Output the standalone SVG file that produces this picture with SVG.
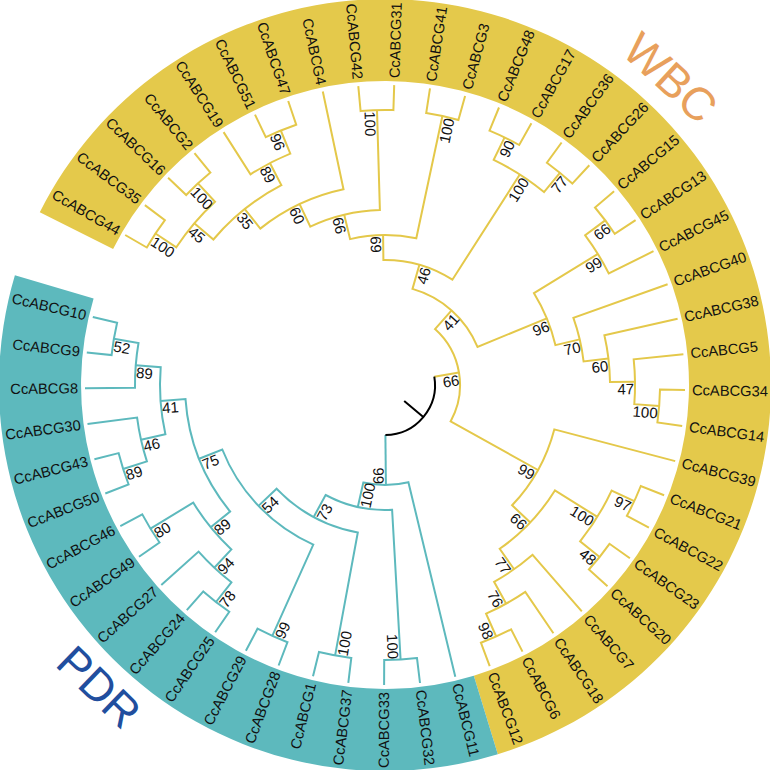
<svg xmlns="http://www.w3.org/2000/svg" width="770" height="770" viewBox="0 0 770 770">
<style>
.y{fill:none;stroke:#E4C84A;stroke-width:2}
.t{fill:none;stroke:#5DB9BD;stroke-width:2}
.k{fill:none;stroke:#000;stroke-width:2}
text{font-family:"Liberation Sans",Arial,sans-serif;fill:#111}
.lf{font-size:14.7px;dominant-baseline:central}
.R{text-anchor:start}
.L{text-anchor:end}
.b{font-size:15px}
.be{text-anchor:end}
.bs{text-anchor:start}
</style>
<rect width="770" height="770" fill="#fff"/>
<g id="bands">
<path d="M39.8,212.3 A386,386 0 1 1 497.8,754.2 L473.8,675.7 A304,304 0 1 0 113.1,249.0 Z" fill="#E4C94B"/>
<path d="M497.8,754.2 A386,386 0 0 1 14.9,275.2 L93.6,298.5 A304,304 0 0 0 473.8,675.7 Z" fill="#5DB9BD"/>
</g>
<g id="connectors">
<path class="y" d="M125.2,235.0 L146.8,247.5 A275,275 0 0 1 164.9,220.1 L144.9,205.1"/>
<path class="y" d="M168.1,177.7 L186.2,195.0 A275,275 0 0 1 210.4,172.6 L194.5,153.2"/>
<path class="y" d="M155.5,233.5 L176.3,247.3 A250,250 0 0 1 215.0,201.7 L198.0,183.4"/>
<path class="y" d="M255.0,114.6 L265.8,137.2 A275,275 0 0 1 296.2,124.7 L288.2,101.0"/>
<path class="y" d="M223.6,132.1 L250.5,174.3 A250,250 0 0 1 290.3,153.6 L280.8,130.5"/>
<path class="y" d="M194.3,223.3 L213.4,239.5 A225,225 0 0 1 281.4,185.2 L269.9,163.0"/>
<path class="y" d="M244.8,209.1 L260.3,228.6 A200,200 0 0 1 343.5,189.3 L322.8,91.5"/>
<path class="y" d="M358.3,86.2 L360.6,111.1 A275,275 0 0 1 393.4,110.1 L394.2,85.1"/>
<path class="y" d="M299.6,204.1 L310.3,226.7 A175,175 0 0 1 379.9,210.1 L377.0,110.1"/>
<path class="y" d="M430.0,88.4 L426.2,113.1 A275,275 0 0 1 458.4,120.0 L465.1,95.9"/>
<path class="y" d="M344.2,214.8 L350.1,239.1 A150,150 0 0 1 416.3,238.3 L442.4,116.0"/>
<path class="y" d="M499.0,107.5 L489.5,130.6 A275,275 0 0 1 519.2,145.0 L531.4,123.2"/>
<path class="y" d="M561.6,142.5 L546.9,162.7 A275,275 0 0 1 572.3,183.6 L589.3,165.3"/>
<path class="y" d="M504.6,137.4 L493.7,159.9 A250,250 0 0 1 544.0,192.1 L559.9,172.8"/>
<path class="y" d="M383.1,235.0 L383.4,260.0 A125,125 0 0 1 452.4,279.7 L519.8,174.5"/>
<path class="y" d="M614.1,191.3 L595.0,207.5 A275,275 0 0 1 614.7,233.8 L635.6,220.1"/>
<path class="y" d="M605.2,220.4 L585.2,235.3 A250,250 0 0 1 608.8,273.5 L653.5,251.2"/>
<path class="y" d="M685.0,390.0 L660.0,389.6 A275,275 0 0 1 657.4,422.5 L682.2,425.9"/>
<path class="y" d="M683.4,354.2 L633.7,359.3 A250,250 0 0 1 634.3,404.2 L659.2,406.1"/>
<path class="y" d="M677.6,318.7 L604.4,335.3 A225,225 0 0 1 610.0,382.1 L635.0,381.7"/>
<path class="y" d="M667.6,284.3 L573.4,317.8 A200,200 0 0 1 583.6,361.5 L608.4,358.5"/>
<path class="y" d="M597.9,253.9 L534.0,293.2 A175,175 0 0 1 555.4,345.1 L579.7,339.4"/>
<path class="y" d="M419.4,264.8 L412.5,288.9 A100,100 0 0 1 477.5,346.9 L546.8,318.3"/>
<path class="y" d="M664.1,495.2 L640.8,486.0 A275,275 0 0 1 626.9,515.8 L648.9,527.7"/>
<path class="y" d="M629.9,558.3 L609.5,543.8 A275,275 0 0 1 588.9,569.5 L607.5,586.3"/>
<path class="y" d="M634.3,501.1 L611.6,490.6 A250,250 0 0 1 580.1,541.3 L599.6,557.0"/>
<path class="y" d="M522.5,651.6 L511.1,629.4 A275,275 0 0 1 480.9,642.7 L489.7,666.2"/>
<path class="y" d="M553.4,633.3 L525.3,591.9 A250,250 0 0 1 486.1,613.7 L496.2,636.5"/>
<path class="y" d="M581.8,611.4 L532.6,554.8 A225,225 0 0 1 494.1,581.8 L506.2,603.7"/>
<path class="y" d="M597.4,516.9 L554.9,490.5 A200,200 0 0 1 499.7,548.8 L514.1,569.3"/>
<path class="y" d="M675.2,461.1 L554.3,429.4 A175,175 0 0 1 512.1,505.3 L530.3,522.5"/>
<path class="y" d="M451.6,310.4 L435.0,329.1 A75,75 0 0 1 450.6,421.4 L538.0,470.0"/>
<path class="y" d="M434.3,376.7 L459.0,372.5"/>
<path class="t" d="M86.8,352.4 L111.6,355.1 A275,275 0 0 1 117.1,322.7 L92.8,317.0"/>
<path class="t" d="M85.0,388.2 L135.0,387.7 A250,250 0 0 1 138.5,343.0 L113.9,338.8"/>
<path class="t" d="M105.3,493.5 L128.6,484.5 A275,275 0 0 1 118.6,453.1 L94.4,459.3"/>
<path class="t" d="M123.1,469.0 L146.9,461.4 A250,250 0 0 1 137.1,417.6 L87.5,424.1"/>
<path class="t" d="M141.0,439.7 L165.4,434.2 A225,225 0 0 1 160.7,367.2 L135.8,365.3"/>
<path class="t" d="M139.0,556.8 L159.5,542.5 A275,275 0 0 1 142.3,514.4 L120.3,526.2"/>
<path class="t" d="M215.2,632.3 L229.3,611.7 A275,275 0 0 1 203.3,591.4 L186.8,610.2"/>
<path class="t" d="M216.0,602.0 L231.4,582.3 A250,250 0 0 1 198.6,551.6 L161.3,585.0"/>
<path class="t" d="M214.3,567.7 L231.4,549.4 A225,225 0 0 1 193.2,502.6 L150.5,528.7"/>
<path class="t" d="M210.7,527.3 L230.1,511.5 A200,200 0 0 1 185.5,399.1 L160.6,400.9"/>
<path class="t" d="M278.6,665.5 L287.5,642.2 A275,275 0 0 1 257.5,628.7 L245.9,650.8"/>
<path class="t" d="M272.3,635.9 L313.3,544.6 A175,175 0 0 1 222.3,449.5 L199.1,458.7"/>
<path class="t" d="M348.3,682.8 L351.3,657.9 A275,275 0 0 1 319.0,652.0 L313.0,676.2"/>
<path class="t" d="M335.1,655.4 L357.8,532.5 A150,150 0 0 1 276.6,488.7 L258.5,505.9"/>
<path class="t" d="M420.0,683.0 L417.0,658.1 A275,275 0 0 1 384.2,660.0 L384.1,685.0"/>
<path class="t" d="M400.6,659.6 L392.1,509.8 A125,125 0 0 1 325.6,495.0 L313.7,517.0"/>
<path class="t" d="M455.3,676.7 L408.4,482.2 A100,100 0 0 1 363.3,482.6 L357.8,507.0"/>
<path class="t" d="M385.4,435.0 L385.9,485.0"/>
<path class="k" d="M434.3,376.7 A50,50 0 0 1 385.4,435.0 M404.2,401.1 L423.3,417.1"/>
</g>
<g id="leaves">
<g id="CcABCG44"><text class="lf L" x="119.1" y="231.5" transform="rotate(30 119.1 231.5)">CcABCG44</text></g>
<g id="CcABCG35"><text class="lf L" x="139.3" y="200.9" transform="rotate(36.86 139.3 200.9)">CcABCG35</text></g>
<g id="CcABCG16"><text class="lf L" x="163.1" y="172.9" transform="rotate(43.72 163.1 172.9)">CcABCG16</text></g>
<g id="CcABCG2"><text class="lf L" x="190.1" y="147.8" transform="rotate(50.59 190.1 147.8)">CcABCG2</text></g>
<g id="CcABCG19"><text class="lf L" x="219.8" y="126.2" transform="rotate(57.45 219.8 126.2)">CcABCG19</text></g>
<g id="CcABCG51"><text class="lf L" x="251.9" y="108.3" transform="rotate(64.31 251.9 108.3)">CcABCG51</text></g>
<g id="CcABCG47"><text class="lf L" x="285.9" y="94.4" transform="rotate(71.17 285.9 94.4)">CcABCG47</text></g>
<g id="CcABCG4"><text class="lf L" x="321.3" y="84.7" transform="rotate(78.03 321.3 84.7)">CcABCG4</text></g>
<g id="CcABCG42"><text class="lf L" x="357.7" y="79.2" transform="rotate(84.9 357.7 79.2)">CcABCG42</text></g>
<g id="CcABCG31"><text class="lf R" x="394.4" y="78.2" transform="rotate(-88.24 394.4 78.2)">CcABCG31</text></g>
<g id="CcABCG41"><text class="lf R" x="431.0" y="81.5" transform="rotate(-81.38 431.0 81.5)">CcABCG41</text></g>
<g id="CcABCG3"><text class="lf R" x="466.9" y="89.1" transform="rotate(-74.52 466.9 89.1)">CcABCG3</text></g>
<g id="CcABCG48"><text class="lf R" x="501.7" y="101.0" transform="rotate(-67.66 501.7 101.0)">CcABCG48</text></g>
<g id="CcABCG17"><text class="lf R" x="534.8" y="117.0" transform="rotate(-60.79 534.8 117.0)">CcABCG17</text></g>
<g id="CcABCG36"><text class="lf R" x="565.8" y="136.9" transform="rotate(-53.93 565.8 136.9)">CcABCG36</text></g>
<g id="CcABCG26"><text class="lf R" x="594.1" y="160.2" transform="rotate(-47.07 594.1 160.2)">CcABCG26</text></g>
<g id="CcABCG15"><text class="lf R" x="619.4" y="186.8" transform="rotate(-40.21 619.4 186.8)">CcABCG15</text></g>
<g id="CcABCG13"><text class="lf R" x="641.5" y="216.2" transform="rotate(-33.35 641.5 216.2)">CcABCG13</text></g>
<g id="CcABCG45"><text class="lf R" x="659.8" y="248.1" transform="rotate(-26.48 659.8 248.1)">CcABCG45</text></g>
<g id="CcABCG40"><text class="lf R" x="674.2" y="281.9" transform="rotate(-19.62 674.2 281.9)">CcABCG40</text></g>
<g id="CcABCG38"><text class="lf R" x="684.4" y="317.2" transform="rotate(-12.76 684.4 317.2)">CcABCG38</text></g>
<g id="CcABCG5"><text class="lf R" x="690.4" y="353.4" transform="rotate(-5.9 690.4 353.4)">CcABCG5</text></g>
<g id="CcABCG34"><text class="lf R" x="692.0" y="390.2" transform="rotate(0.96 692.0 390.2)">CcABCG34</text></g>
<g id="CcABCG14"><text class="lf R" x="689.1" y="426.8" transform="rotate(7.83 689.1 426.8)">CcABCG14</text></g>
<g id="CcABCG39"><text class="lf R" x="682.0" y="462.9" transform="rotate(14.69 682.0 462.9)">CcABCG39</text></g>
<g id="CcABCG21"><text class="lf R" x="670.6" y="497.8" transform="rotate(21.55 670.6 497.8)">CcABCG21</text></g>
<g id="CcABCG22"><text class="lf R" x="655.0" y="531.1" transform="rotate(28.41 655.0 531.1)">CcABCG22</text></g>
<g id="CcABCG23"><text class="lf R" x="635.7" y="562.3" transform="rotate(35.27 635.7 562.3)">CcABCG23</text></g>
<g id="CcABCG20"><text class="lf R" x="612.6" y="591.0" transform="rotate(42.14 612.6 591.0)">CcABCG20</text></g>
<g id="CcABCG7"><text class="lf R" x="586.4" y="616.7" transform="rotate(49 586.4 616.7)">CcABCG7</text></g>
<g id="CcABCG18"><text class="lf R" x="557.3" y="639.1" transform="rotate(55.86 557.3 639.1)">CcABCG18</text></g>
<g id="CcABCG6"><text class="lf R" x="525.7" y="657.9" transform="rotate(62.72 525.7 657.9)">CcABCG6</text></g>
<g id="CcABCG12"><text class="lf R" x="492.1" y="672.7" transform="rotate(69.58 492.1 672.7)">CcABCG12</text></g>
<g id="CcABCG11"><text class="lf R" x="456.9" y="683.5" transform="rotate(76.45 456.9 683.5)">CcABCG11</text></g>
<g id="CcABCG32"><text class="lf R" x="420.8" y="689.9" transform="rotate(83.31 420.8 689.9)">CcABCG32</text></g>
<g id="CcABCG33"><text class="lf L" x="384.1" y="692.0" transform="rotate(-89.83 384.1 692.0)">CcABCG33</text></g>
<g id="CcABCG37"><text class="lf L" x="347.4" y="689.7" transform="rotate(-82.97 347.4 689.7)">CcABCG37</text></g>
<g id="CcABCG1"><text class="lf L" x="311.3" y="683.0" transform="rotate(-76.11 311.3 683.0)">CcABCG1</text></g>
<g id="CcABCG28"><text class="lf L" x="276.2" y="672.1" transform="rotate(-69.24 276.2 672.1)">CcABCG28</text></g>
<g id="CcABCG29"><text class="lf L" x="242.7" y="657.0" transform="rotate(-62.38 242.7 657.0)">CcABCG29</text></g>
<g id="CcABCG25"><text class="lf L" x="211.2" y="638.1" transform="rotate(-55.52 211.2 638.1)">CcABCG25</text></g>
<g id="CcABCG24"><text class="lf L" x="182.2" y="615.5" transform="rotate(-48.66 182.2 615.5)">CcABCG24</text></g>
<g id="CcABCG27"><text class="lf L" x="156.1" y="589.6" transform="rotate(-41.8 156.1 589.6)">CcABCG27</text></g>
<g id="CcABCG49"><text class="lf L" x="133.3" y="560.8" transform="rotate(-34.93 133.3 560.8)">CcABCG49</text></g>
<g id="CcABCG46"><text class="lf L" x="114.1" y="529.5" transform="rotate(-28.07 114.1 529.5)">CcABCG46</text></g>
<g id="CcABCG50"><text class="lf L" x="98.8" y="496.1" transform="rotate(-21.21 98.8 496.1)">CcABCG50</text></g>
<g id="CcABCG43"><text class="lf L" x="87.6" y="461.1" transform="rotate(-14.35 87.6 461.1)">CcABCG43</text></g>
<g id="CcABCG30"><text class="lf L" x="80.6" y="425.0" transform="rotate(-7.49 80.6 425.0)">CcABCG30</text></g>
<g id="CcABCG8"><text class="lf L" x="78.0" y="388.3" transform="rotate(-0.62 78.0 388.3)">CcABCG8</text></g>
<g id="CcABCG9"><text class="lf L" x="79.8" y="351.6" transform="rotate(6.24 79.8 351.6)">CcABCG9</text></g>
<g id="CcABCG10"><text class="lf L" x="86.0" y="315.4" transform="rotate(13.1 86.0 315.4)">CcABCG10</text></g>
</g>
<g id="bootstrap">
<g id="n-y1"><text class="b bs" x="155.5" y="233.5" dx="1" dy="12.5" transform="rotate(33.43 155.5 233.5)">100</text></g>
<g id="n-y2"><text class="b bs" x="198.0" y="183.4" dx="1" dy="12.5" transform="rotate(47.155 198.0 183.4)">100</text></g>
<g id="n-y3"><text class="b bs" x="194.3" y="223.3" dx="1" dy="12.5" transform="rotate(40.29 194.3 223.3)">45</text></g>
<g id="n-y4"><text class="b bs" x="280.8" y="130.5" dx="1" dy="12.5" transform="rotate(67.74 280.8 130.5)">96</text></g>
<g id="n-y5"><text class="b bs" x="269.9" y="163.0" dx="1" dy="12.5" transform="rotate(62.595 269.9 163.0)">89</text></g>
<g id="n-y6"><text class="b bs" x="244.8" y="209.1" dx="1" dy="12.5" transform="rotate(51.44 244.8 209.1)">35</text></g>
<g id="n-y7"><text class="b bs" x="299.6" y="204.1" dx="1" dy="12.5" transform="rotate(64.735 299.6 204.1)">60</text></g>
<g id="n-y8"><text class="b bs" x="377.0" y="110.1" dx="1" dy="12.5" transform="rotate(88.33 377.0 110.1)">100</text></g>
<g id="n-y9"><text class="b bs" x="344.2" y="214.8" dx="1" dy="12.5" transform="rotate(76.53 344.2 214.8)">66</text></g>
<g id="n-y10"><text class="b be" x="442.4" y="116.0" dx="-1" dy="12.5" transform="rotate(-77.95 442.4 116.0)">100</text></g>
<g id="n-y11"><text class="b bs" x="383.1" y="235.0" dx="1" dy="12.5" transform="rotate(89.29 383.1 235.0)">69</text></g>
<g id="n-y12"><text class="b be" x="504.6" y="137.4" dx="-1" dy="12.5" transform="rotate(-64.225 504.6 137.4)">90</text></g>
<g id="n-y13"><text class="b be" x="559.9" y="172.8" dx="-1" dy="12.5" transform="rotate(-50.5 559.9 172.8)">77</text></g>
<g id="n-y14"><text class="b be" x="519.8" y="174.5" dx="-1" dy="12.5" transform="rotate(-57.36 519.8 174.5)">100</text></g>
<g id="n-y15"><text class="b be" x="419.4" y="264.8" dx="-1" dy="12.5" transform="rotate(-74.035 419.4 264.8)">46</text></g>
<g id="n-y16"><text class="b be" x="605.2" y="220.4" dx="-1" dy="12.5" transform="rotate(-36.78 605.2 220.4)">66</text></g>
<g id="n-y17"><text class="b be" x="597.9" y="253.9" dx="-1" dy="12.5" transform="rotate(-31.63 597.9 253.9)">99</text></g>
<g id="n-y18"><text class="b be" x="659.2" y="406.1" dx="-1" dy="12.5" transform="rotate(4.395 659.2 406.1)">100</text></g>
<g id="n-y19"><text class="b be" x="635.0" y="381.7" dx="-1" dy="12.5" transform="rotate(-0.75 635.0 381.7)">47</text></g>
<g id="n-y20"><text class="b be" x="608.4" y="358.5" dx="-1" dy="12.5" transform="rotate(-6.756 608.4 358.5)">60</text></g>
<g id="n-y21"><text class="b be" x="579.7" y="339.4" dx="-1" dy="12.5" transform="rotate(-13.188 579.7 339.4)">70</text></g>
<g id="n-y22"><text class="b be" x="546.8" y="318.3" dx="-1" dy="12.5" transform="rotate(-22.41 546.8 318.3)">96</text></g>
<g id="n-y23"><text class="b be" x="451.6" y="310.4" dx="-1" dy="12.5" transform="rotate(-48.22 451.6 310.4)">41</text></g>
<g id="n-y24"><text class="b be" x="459.0" y="372.5" dx="-1" dy="12.5" transform="rotate(-9.58 459.0 372.5)">66</text></g>
<g id="n-y25"><text class="b be" x="634.3" y="501.1" dx="-1" dy="12.5" transform="rotate(24.98 634.3 501.1)">97</text></g>
<g id="n-y26"><text class="b be" x="599.6" y="557.0" dx="-1" dy="12.5" transform="rotate(38.705 599.6 557.0)">48</text></g>
<g id="n-y27"><text class="b be" x="597.4" y="516.9" dx="-1" dy="12.5" transform="rotate(31.84 597.4 516.9)">100</text></g>
<g id="n-y28"><text class="b be" x="496.2" y="636.5" dx="-1" dy="12.5" transform="rotate(66.15 496.2 636.5)">98</text></g>
<g id="n-y29"><text class="b be" x="506.2" y="603.7" dx="-1" dy="12.5" transform="rotate(61.005 506.2 603.7)">76</text></g>
<g id="n-y30"><text class="b be" x="514.1" y="569.3" dx="-1" dy="12.5" transform="rotate(55 514.1 569.3)">77</text></g>
<g id="n-y31"><text class="b be" x="530.3" y="522.5" dx="-1" dy="12.5" transform="rotate(43.42 530.3 522.5)">66</text></g>
<g id="n-y32"><text class="b be" x="538.0" y="470.0" dx="-1" dy="12.5" transform="rotate(29.055 538.0 470.0)">99</text></g>
<g id="n-t1"><text class="b bs" x="113.9" y="338.8" dx="1" dy="12.5" transform="rotate(9.67 113.9 338.8)">52</text></g>
<g id="n-t2"><text class="b bs" x="135.8" y="365.3" dx="1" dy="12.5" transform="rotate(4.525 135.8 365.3)">89</text></g>
<g id="n-t3"><text class="b bs" x="123.1" y="469.0" dx="1" dy="12.5" transform="rotate(-17.78 123.1 469.0)">89</text></g>
<g id="n-t4"><text class="b bs" x="141.0" y="439.7" dx="1" dy="12.5" transform="rotate(-12.635 141.0 439.7)">46</text></g>
<g id="n-t5"><text class="b bs" x="160.6" y="400.9" dx="1" dy="12.5" transform="rotate(-4.055 160.6 400.9)">41</text></g>
<g id="n-t6"><text class="b bs" x="150.5" y="528.7" dx="1" dy="12.5" transform="rotate(-31.5 150.5 528.7)">80</text></g>
<g id="n-t7"><text class="b bs" x="216.0" y="602.0" dx="1" dy="12.5" transform="rotate(-52.09 216.0 602.0)">78</text></g>
<g id="n-t8"><text class="b bs" x="214.3" y="567.7" dx="1" dy="12.5" transform="rotate(-46.945 214.3 567.7)">94</text></g>
<g id="n-t9"><text class="b bs" x="210.7" y="527.3" dx="1" dy="12.5" transform="rotate(-39.22 210.7 527.3)">89</text></g>
<g id="n-t10"><text class="b bs" x="199.1" y="458.7" dx="1" dy="12.5" transform="rotate(-21.64 199.1 458.7)">75</text></g>
<g id="n-t11"><text class="b bs" x="272.3" y="635.9" dx="1" dy="12.5" transform="rotate(-65.81 272.3 635.9)">99</text></g>
<g id="n-t12"><text class="b bs" x="258.5" y="505.9" dx="1" dy="12.5" transform="rotate(-43.725 258.5 505.9)">54</text></g>
<g id="n-t13"><text class="b bs" x="335.1" y="655.4" dx="1" dy="12.5" transform="rotate(-79.54 335.1 655.4)">100</text></g>
<g id="n-t14"><text class="b bs" x="313.7" y="517.0" dx="1" dy="12.5" transform="rotate(-61.63 313.7 517.0)">73</text></g>
<g id="n-t15"><text class="b be" x="400.6" y="659.6" dx="-1" dy="12.5" transform="rotate(86.74 400.6 659.6)">100</text></g>
<g id="n-t16"><text class="b bs" x="357.8" y="507.0" dx="1" dy="12.5" transform="rotate(-77.445 357.8 507.0)">100</text></g>
<g id="n-t17"><text class="b be" x="385.9" y="485.0" dx="-1" dy="12.5" transform="rotate(89.5 385.9 485.0)">99</text></g>
</g>
<g id="clade-labels">
<g id="WBC"><text x="670.6" y="77.8" text-anchor="middle" dominant-baseline="central" font-size="46" fill="#E8A05C" style="fill:#E8A05C" transform="rotate(42.7 670.6 77.8)">WBC</text></g>
<g id="PDR"><text x="99" y="687" text-anchor="middle" dominant-baseline="central" font-size="45" style="fill:#214E9E" transform="rotate(44 99 687)">PDR</text></g>
</g>
</svg>
